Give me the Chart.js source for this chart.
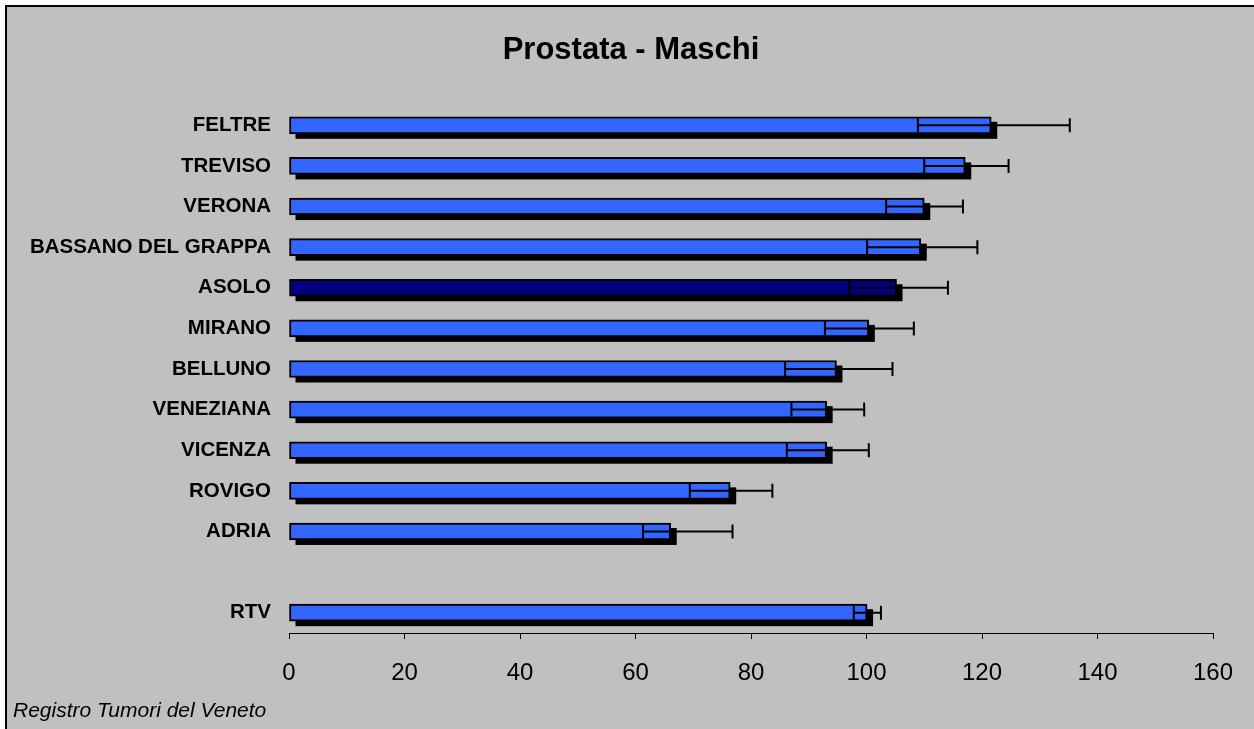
<!DOCTYPE html>
<html>
<head>
<meta charset="utf-8">
<script src="https://cdn.jsdelivr.net/npm/chart.js@4/dist/chart.umd.min.js"></script>
<style>
  html, body { margin: 0; padding: 0; background: #fff; }
  #frame { position: absolute; left: 5px; top: 5px; width: 1249px; height: 724px;
           border-left: 2px solid #000; border-top: 2px solid #000; background: #c0c0c0; }
  #chart { position: absolute; left: 0; top: 0; }
</style>
</head>
<body>
<div id="frame"></div>
<canvas id="chart" width="1254" height="729"></canvas>
<script>
var FONT = '"Liberation Sans", Arial, sans-serif';

var categories = ['FELTRE', 'TREVISO', 'VERONA', 'BASSANO DEL GRAPPA', 'ASOLO', 'MIRANO',
                  'BELLUNO', 'VENEZIANA', 'VICENZA', 'ROVIGO', 'ADRIA', '', 'RTV'];
var values = [121.6, 117.1, 110.0, 109.4, 105.2, 100.4, 94.8, 93.1, 93.1, 76.4, 66.1, null, 100.1];
var lower  = [108.9, 110.0, 103.4, 100.1, 97.0, 92.8, 85.9, 87.0, 86.2, 69.4, 61.3, null, 97.8];
var upper  = [135.2, 124.6, 116.7, 119.2, 114.1, 108.2, 104.5, 99.6, 100.4, 83.7, 76.8, null, 102.5];
var xTicks = [0, 20, 40, 60, 80, 100, 120, 140, 160];
var highlight = 'ASOLO';

var barColors = categories.map(function (c) { return c === highlight ? '#000080' : '#3366ff'; });

// black drop shadow behind every bar
var shadowPlugin = {
    id: 'shadow',
    beforeDatasetsDraw: function (chart) {
        var ctx = chart.ctx;
        var meta = chart.getDatasetMeta(0);
        ctx.save();
        ctx.fillStyle = '#000';
        meta.data.forEach(function (bar, i) {
            if (values[i] == null) return;
            var p = bar.getProps(['x', 'y', 'base', 'height'], true);
            ctx.fillRect(p.base + 6, p.y - p.height / 2 + 5, p.x - p.base, p.height);
        });
        ctx.restore();
    }
};

// error bars drawn from the lower/upper arrays through the x scale
var errorPlugin = {
    id: 'errorbars',
    afterDatasetsDraw: function (chart) {
        var ctx = chart.ctx;
        var xs = chart.scales.x;
        var meta = chart.getDatasetMeta(0);
        ctx.save();
        ctx.strokeStyle = '#000';
        ctx.lineWidth = 2;
        meta.data.forEach(function (bar, i) {
            if (lower[i] == null) return;
            var y = bar.y;
            var x1 = xs.getPixelForValue(lower[i]);
            var x2 = xs.getPixelForValue(upper[i]);
            ctx.beginPath();
            ctx.moveTo(x1, y); ctx.lineTo(x2, y);
            ctx.moveTo(x1, y - 7); ctx.lineTo(x1, y + 7);
            ctx.moveTo(x2, y - 7); ctx.lineTo(x2, y + 7);
            ctx.stroke();
        });
        ctx.restore();
    }
};

var textPlugin = {
    id: 'texts',
    afterDraw: function (chart) {
        var ctx = chart.ctx;
        ctx.save();
        ctx.fillStyle = '#000';
        ctx.textBaseline = 'alphabetic';
        ctx.textAlign = 'center';
        ctx.font = 'bold 31px ' + FONT;
        ctx.fillText('Prostata - Maschi', 631, 59);
        ctx.textAlign = 'left';
        ctx.font = 'italic 21px ' + FONT;
        ctx.fillText('Registro Tumori del Veneto', 13, 717);
        ctx.restore();
    }
};

new Chart(document.getElementById('chart'), {
    type: 'bar',
    data: {
        labels: categories,
        datasets: [{
            data: values,
            backgroundColor: barColors,
            borderColor: '#000',
            borderWidth: 2,
            borderSkipped: false,
            barThickness: 17
        }]
    },
    options: {
        indexAxis: 'y',
        responsive: false,
        animation: false,
        devicePixelRatio: 1,
        layout: { padding: { top: 105, right: 41, bottom: 0, left: 0 } },
        plugins: { legend: { display: false }, tooltip: { enabled: false }, title: { display: false } },
        scales: {
            x: {
                min: 0, max: 160,
                afterBuildTicks: function (s) { s.ticks = xTicks.map(function (v) { return { value: v }; }); },
                afterFit: function (s) { s.height = 96; },
                grid: { drawOnChartArea: false, drawTicks: true, tickLength: 6, color: '#000', lineWidth: 1 },
                border: { display: true, color: '#000', width: 1 },
                ticks: { color: '#000', font: { family: FONT, size: 24 }, padding: 20, maxRotation: 0 }
            },
            y: {
                afterFit: function (s) { s.width = 289; },
                grid: { display: false, drawTicks: false },
                border: { display: false },
                ticks: { color: '#000', font: { family: FONT, size: 20.5, weight: 'bold' }, padding: 18 }
            }
        }
    },
    plugins: [shadowPlugin, errorPlugin, textPlugin]
});
</script>
</body>
</html>
